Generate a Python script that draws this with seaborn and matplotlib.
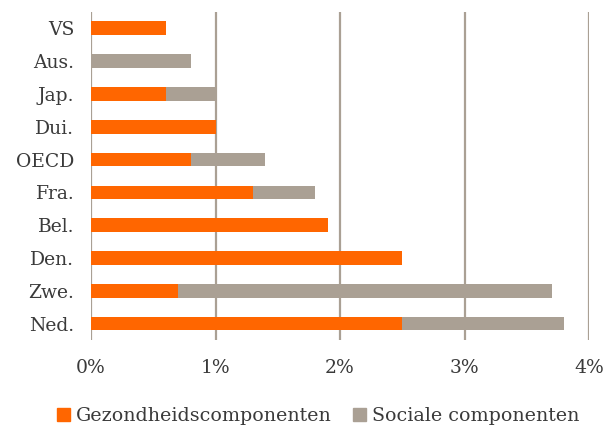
import numpy as np
import pandas as pd
import matplotlib
matplotlib.use("Agg")
import matplotlib.pyplot as plt
import seaborn as sns
from matplotlib.patches import Patch

# ----------------------
# data
# ----------------------
landen = ["VS", "Aus.", "Jap.", "Dui.", "OECD", "Fra.", "Bel.", "Den.", "Zwe.", "Ned."]
gezondheid = [0.6, 0.0, 0.6, 1.0, 0.8, 1.3, 1.9, 2.5, 0.7, 2.5]
sociaal = [0.0, 0.8, 0.4, 0.0, 0.6, 0.5, 0.0, 0.0, 3.0, 1.3]

oranje = "#ff6600"
grijs = "#aaa094"

df = pd.DataFrame({"land": landen, "gezondheid": gezondheid, "sociaal": sociaal})
df["totaal"] = df["gezondheid"] + df["sociaal"]

sns.set_style("white")
plt.rcParams["font.family"] = ["DejaVu Serif"]
plt.rcParams["text.color"] = "#3a3a3a"

fig = plt.figure(figsize=(6.05, 4.25), dpi=100)
ax = fig.add_axes([0.1504, 0.2, 0.8232, 0.7718])

# stacked: grey total first, orange on top
sns.barplot(data=df, y="land", x="totaal", color=grijs, orient="h",
            width=0.42, saturation=1, linewidth=0, ax=ax, zorder=3)
sns.barplot(data=df, y="land", x="gezondheid", color=oranje, orient="h",
            width=0.42, saturation=1, linewidth=0, ax=ax, zorder=4)

ax.set_xlim(0, 4)
ax.set_xticks([0, 1, 2, 3, 4])
ax.set_xticklabels(["0%", "1%", "2%", "3%", "4%"])
ax.set_xlabel("")
ax.set_ylabel("")
for x in range(5):
    ax.axvline(x, color=grijs, linewidth=1.6, zorder=1)
for s in ax.spines.values():
    s.set_visible(False)
ax.tick_params(axis="both", length=0, labelsize=13.5, labelcolor="#3a3a3a")
ax.tick_params(axis="x", pad=14)
ax.tick_params(axis="y", pad=12)

handles = [Patch(color=oranje, label="Gezondheidscomponenten"),
           Patch(color=grijs, label="Sociale componenten")]
fig.legend(handles=handles, loc="lower center", bbox_to_anchor=(0.526, -0.04),
           ncol=2, frameon=False, fontsize=13.7, handlelength=0.7, handleheight=0.7,
           handletextpad=0.3, columnspacing=1.1)

fig.savefig("out.png", dpi=100)
